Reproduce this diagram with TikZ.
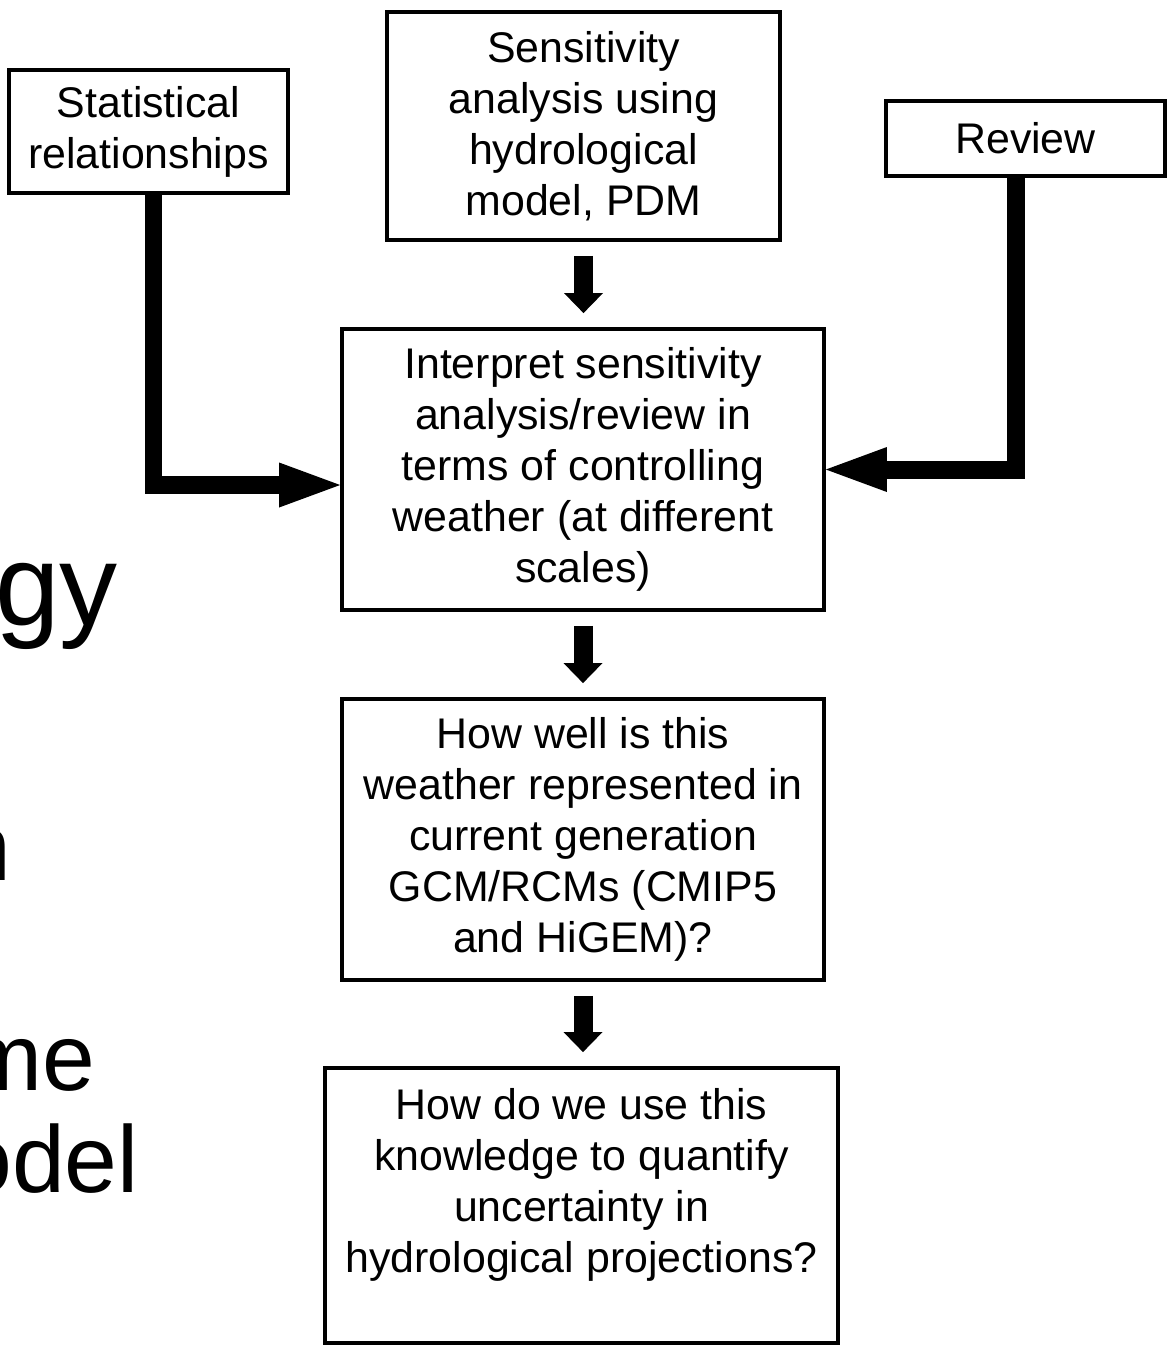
\documentclass[tikz,border=0pt]{standalone}
\usepackage{fontspec}
\setmainfont{Liberation Sans}
\usetikzlibrary{arrows.meta,positioning}
\tikzset{
  blk/.style={draw, line width=2.5pt, align=center, inner sep=0pt, font=\fontsize{24.4}{29}\selectfont},
  elbow/.style={line width=0.36cm, -{Triangle[length=1.22cm, width=0.9cm, line width=0pt]}},
  down/.style={line width=0.38cm, shorten <=0.28cm, shorten >=0.28cm, -{Triangle[length=0.4cm, width=0.78cm, line width=0pt]}},
  bigtxt/.style={inner sep=0pt, anchor=base east},
}

\begin{document}
\begin{tikzpicture}[x=0.02cm, y=-0.02cm]
\useasboundingbox (0,0) rectangle (1168,1350);
% slide text cut off at the left edge
\begin{scope}
  \clip (0,0) rectangle (330,1350);
  \node[bigtxt, font=\fontsize{66}{70}\selectfont] (ttl) at (118,625) {gy};
  \node[bigtxt, font=\fontsize{54}{60}\selectfont] (bl1) at (12,880) {n};
  \node[bigtxt, font=\fontsize{54}{60}\selectfont] (bl2) at (96,1090) {me};
  \node[bigtxt, font=\fontsize{54}{60}\selectfont] (bl3) at (139,1192) {odel};
\end{scope}

% boxes
\node[blk, minimum width=5.57cm, minimum height=2.45cm] (stat) at (148.5,131.5) {Statistical\\relationships};
\node[blk, minimum width=7.85cm, minimum height=4.55cm] (sens) at (583.5,126) {Sensitivity\\analysis using\\hydrological\\model, PDM};
\node[blk, minimum width=5.57cm, minimum height=1.49cm] (review) at (1025.5,138.5) {Review};
\node[blk, minimum width=9.63cm, minimum height=5.61cm] (interp) at (583,469.5) {Interpret sensitivity\\analysis/review in\\terms of controlling\\weather (at different\\scales)};
\node[blk, minimum width=9.63cm, minimum height=5.61cm] (well) at (583,839.5) {How well is this\\weather represented in\\current generation\\GCM/RCMs (CMIP5\\and HiGEM)?};
\node[blk, minimum width=10.25cm, minimum height=5.49cm] (use) at (581.5,1205.5) {How do we use this\\knowledge to quantify\\uncertainty in\\hydrological projections?\\\mbox{}};

% connectors
\draw[elbow] ([xshift=0.1cm]stat.south) |- ([yshift=-0.31cm]interp.west);
\draw[elbow] ([xshift=-0.2cm]review.south) |- (interp.east);
\draw[down] (sens.south) -- (sens.south |- interp.north);
\draw[down] (interp.south) -- (interp.south |- well.north);
\draw[down] (well.south) -- (well.south |- use.north);
\end{tikzpicture}
\end{document}
